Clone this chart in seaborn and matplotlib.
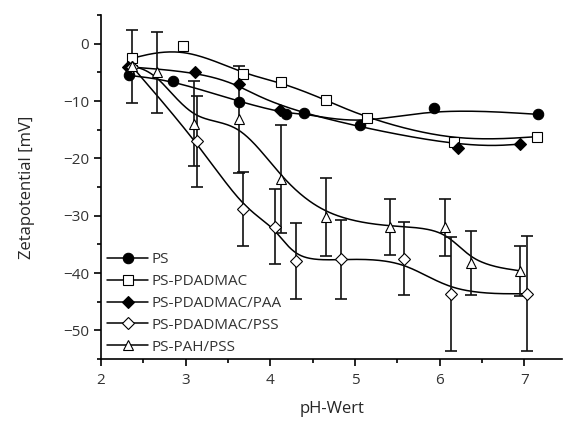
import matplotlib
matplotlib.use("Agg")
import matplotlib.pyplot as plt
from matplotlib.lines import Line2D
from matplotlib.ticker import MultipleLocator
import seaborn as sns
import pandas as pd
import numpy as np

# PS
ps_x = [2.33, 2.85, 3.63, 4.19, 4.40, 5.06, 5.94, 7.16]
ps_y = [-5.5, -6.4, -10.1, -12.2, -12.1, -14.1, -11.2, -12.3]

# PS-PDADMAC
pdad_x = [2.37, 2.97, 3.68, 4.13, 4.66, 5.14, 6.17, 7.15]
pdad_y = [-2.5, -0.4, -5.3, -6.7, -9.8, -13.0, -17.1, -16.2]

# PS-PDADMAC/PAA
paa_x = [2.32, 3.11, 3.63, 4.12, 6.22, 6.95]
paa_y = [-4.0, -4.9, -7.0, -11.6, -18.2, -17.5]

# PS-PDADMAC/PSS
pss_x = [2.37, 3.13, 3.68, 4.06, 4.30, 4.83, 5.58, 6.13, 7.03]
pss_y = [-4.0, -17.0, -28.8, -31.9, -37.9, -37.6, -37.5, -43.6, -43.6]
pss_err = [6.4, 7.9, 6.5, 6.5, 6.7, 6.9, 6.4, 9.9, 10.0]

# PS-PAH/PSS
pah_x = [2.37, 2.66, 3.10, 3.63, 4.13, 4.66, 5.41, 6.07, 6.37, 6.95]
pah_y = [-3.9, -5.0, -13.9, -13.2, -23.6, -30.2, -32.0, -32.0, -38.3, -39.6]
pah_err = [0, 7.0, 7.4, 9.4, 9.4, 6.8, 4.9, 5.0, 5.6, 4.4]


def bspline(xs, ys, n=40):
    # uniform cubic B-spline with the data as control points (Origin style)
    px = np.r_[[xs[0]] * 2, xs, [xs[-1]] * 2]
    py = np.r_[[ys[0]] * 2, ys, [ys[-1]] * 2]
    t = np.linspace(0, 1, n)
    b0 = (1 - t) ** 3 / 6
    b1 = (3 * t ** 3 - 6 * t ** 2 + 4) / 6
    b2 = (-3 * t ** 3 + 3 * t ** 2 + 3 * t + 1) / 6
    b3 = t ** 3 / 6
    cx, cy = [], []
    for i in range(len(px) - 3):
        cx.append(b0 * px[i] + b1 * px[i + 1] + b2 * px[i + 2] + b3 * px[i + 3])
        cy.append(b0 * py[i] + b1 * py[i + 1] + b2 * py[i + 2] + b3 * py[i + 3])
    return np.concatenate(cx), np.concatenate(cy)


sns.set_style("ticks")
plt.rcParams['font.family'] = ['Open Sans', 'DejaVu Sans']
plt.rcParams['text.color'] = '#333333'

fig = plt.figure(figsize=(5.64, 4.21), dpi=100)
ax = fig.add_axes([0.179, 0.147, 0.818, 0.817])

series = [
    ("PS", ps_x, ps_y, None, "o", "black"),
    ("PS-PDADMAC", pdad_x, pdad_y, None, "s", "white"),
    ("PS-PDADMAC/PAA", paa_x, paa_y, None, "D", "black"),
    ("PS-PDADMAC/PSS", pss_x, pss_y, pss_err, "D", "white"),
    ("PS-PAH/PSS", pah_x, pah_y, pah_err, "^", "white"),
]

handles = []
for name, xs, ys, err, mk, fc in series:
    cx, cy = bspline(xs, ys)
    sns.lineplot(x=cx, y=cy, ax=ax, color="black", lw=1.1, sort=False,
                 estimator=None, zorder=2)
    ms = 6.5 if mk == "D" else 7.5
    if err is not None:
        ax.errorbar(xs, ys, yerr=err, fmt="none", ecolor="#111111",
                    elinewidth=1.2, capsize=4, capthick=1.2, zorder=3)
    ax.plot(xs, ys, ls="none", marker=mk, ms=ms, mfc=fc, mec="black",
            mew=0.8, zorder=4)
    handles.append(Line2D([], [], color="black", lw=1.1, marker=mk, ms=ms,
                          mfc=fc, mec="black", mew=0.8, label=name))

ax.set_xlim(2, 7.45)
ax.set_ylim(-55, 5)
ax.xaxis.set_major_locator(MultipleLocator(1))
ax.xaxis.set_minor_locator(MultipleLocator(0.5))
ax.yaxis.set_major_locator(MultipleLocator(10))
ax.yaxis.set_minor_locator(MultipleLocator(5))
ax.tick_params(which="major", length=5, width=1.2, labelsize=11,
               colors="black", labelcolor="#333333")
ax.tick_params(which="minor", length=3, width=1.2, colors="black")
ax.tick_params(axis="x", pad=5)
for s in ["left", "bottom"]:
    ax.spines[s].set_linewidth(1.2)
    ax.spines[s].set_color("black")
sns.despine(ax=ax)

ax.set_xlabel("pH-Wert", fontsize=12, labelpad=9)
ax.set_ylabel("Zetapotential [mV]", fontsize=12, labelpad=20)

ax.legend(handles=handles, loc="lower left", frameon=False, fontsize=11,
          handlelength=2.7, handletextpad=0.2, labelspacing=0.45,
          borderaxespad=0.0, bbox_to_anchor=(0.0, -0.005))

fig.savefig("out.png", dpi=100)
